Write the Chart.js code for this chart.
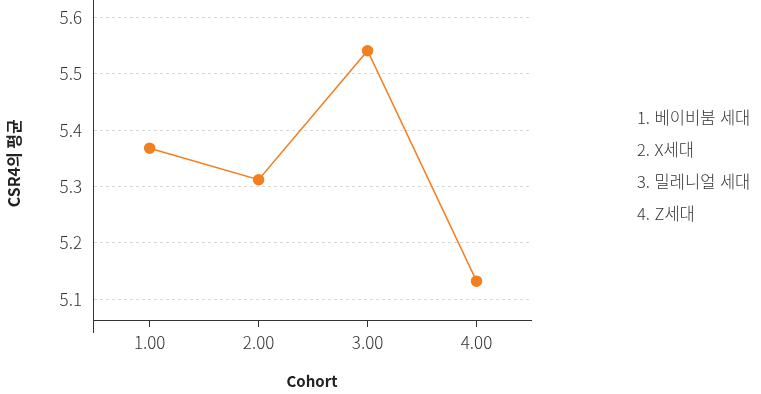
<!DOCTYPE html>
<html lang="ko">
<head>
    <meta charset="utf-8">
    <title>CSR4의 평균</title>
    <script src="https://cdn.jsdelivr.net/npm/chart.js"></script>
    <style>
        html, body { margin: 0; padding: 0; background: #fff; }
        #wrap { position: relative; width: 761px; height: 394px; }
        #notes {
            position: absolute; left: 637px; top: 101px;
            font-family: "Noto Sans CJK KR", "Noto Sans", sans-serif;
            font-size: 16.5px; font-weight: 300; color: #333; line-height: 32px;
        }
    </style>
</head>
<body>
<div id="wrap">
    <canvas id="cohortChart" width="761" height="394"></canvas>
    <div id="notes"></div>
</div>

<script>
    var cohorts = [1, 2, 3, 4];
    var csrMeans = [5.368, 5.312, 5.541, 5.132];
    var yTicks = [5.1, 5.2, 5.3, 5.4, 5.5, 5.6];
    var cohortNames = ['1. 베이비붐 세대', '2. X세대', '3. 밀레니얼 세대', '4. Z세대'];

    document.getElementById('notes').innerHTML = cohortNames.map(n => '<div>' + n + '</div>').join('');

    var fontFamily = '"Noto Sans CJK KR", "Noto Sans", sans-serif';

    // y axis line runs a little past the x axis, like the original
    var axisTail = {
        id: 'axisTail',
        afterDraw(chart) {
            var a = chart.chartArea, c = chart.ctx;
            c.save();
            c.strokeStyle = '#333';
            c.lineWidth = 1;
            c.beginPath();
            c.moveTo(a.left + 0.5, 0);
            c.lineTo(a.left + 0.5, a.bottom + 13);
            c.stroke();
            c.restore();
        }
    };

    new Chart(document.getElementById('cohortChart'), {
        type: 'line',
        data: {
            datasets: [{
                data: cohorts.map((x, i) => ({ x: x, y: csrMeans[i] })),
                borderColor: '#f47f20',
                backgroundColor: '#f47f20',
                borderWidth: 1.5,
                pointRadius: 5,
                pointHoverRadius: 5,
                tension: 0
            }]
        },
        options: {
            responsive: false,
            animation: false,
            layout: { padding: { left: 0, right: 230, top: 0, bottom: 0 } },
            plugins: {
                legend: { display: false },
                tooltip: { enabled: false }
            },
            scales: {
                x: {
                    type: 'linear',
                    min: 0.48,
                    max: 4.5,
                    afterBuildTicks: s => { s.ticks = cohorts.map(v => ({ value: v })); },
                    afterFit: s => { s.height = 74; s.paddingLeft = 0; s.paddingRight = 0; },
                    border: { display: true, color: '#333', width: 1 },
                    grid: { drawOnChartArea: false, drawTicks: true, tickLength: 7, color: '#333' },
                    ticks: {
                        color: '#333',
                        padding: 5,
                        font: { family: fontFamily, size: 17, weight: 300 },
                        callback: v => Number(v).toFixed(2)
                    },
                    title: {
                        display: true,
                        text: 'Cohort',
                        color: '#222',
                        padding: { top: 10 },
                        font: { family: fontFamily, size: 15, weight: 'bold' }
                    }
                },
                y: {
                    min: 5.063,
                    max: 5.6195,
                    afterBuildTicks: s => { s.ticks = yTicks.map(v => ({ value: v })); },
                    afterFit: s => { s.width = 93; s.paddingTop = 0; s.paddingBottom = 0; },
                    border: { display: true, color: '#333', width: 1, dash: [3, 3] },
                    grid: { drawTicks: false, color: '#d9d9d9' },
                    ticks: {
                        color: '#333',
                        padding: 11,
                        font: { family: fontFamily, size: 17, weight: 300 },
                        callback: v => Number(v).toFixed(1)
                    },
                    title: {
                        display: true,
                        text: 'CSR4의 평균',
                        color: '#222',
                        font: { family: fontFamily, size: 16, weight: 'bold' }
                    }
                }
            }
        },
        plugins: [axisTail]
    });
</script>
</body>
</html>
